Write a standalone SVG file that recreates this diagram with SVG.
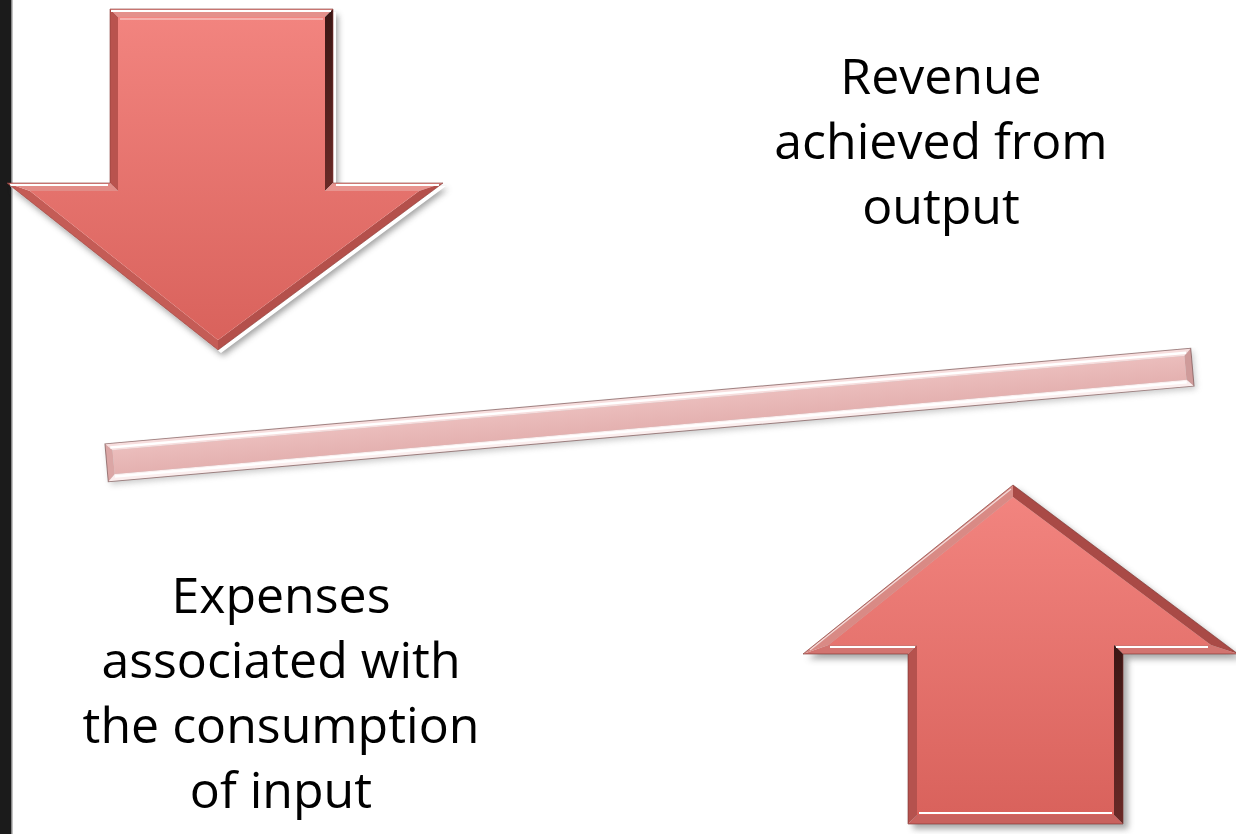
<svg xmlns="http://www.w3.org/2000/svg" width="1236" height="834" viewBox="0 0 1236 834">
  <style>
    .txt { font-family: "Open Sans", "Liberation Sans", sans-serif; font-size: 50px; fill: #000; text-anchor: middle; }
    .hl { fill: none; stroke: #ffffff; stroke-width: 2; stroke-linejoin: round; }
    .hls { fill: none; stroke: #ffffff; stroke-width: 1.2; opacity: 0.7; }
  </style>
  <defs>
    <linearGradient id="face" x1="0" y1="0" x2="0" y2="1">
      <stop offset="0" stop-color="#f2847f"/>
      <stop offset="1" stop-color="#d9625c"/>
    </linearGradient>
    <linearGradient id="darkside" x1="0" y1="0" x2="0" y2="1">
      <stop offset="0" stop-color="#3a1614"/>
      <stop offset="1" stop-color="#6a2a27"/>
    </linearGradient>
    <linearGradient id="barface" x1="0" y1="0" x2="0" y2="1">
      <stop offset="0" stop-color="#ebbdbc"/>
      <stop offset="1" stop-color="#e4b1b0"/>
    </linearGradient>
    <filter id="sh" x="-10%" y="-10%" width="130%" height="130%">
      <feGaussianBlur stdDeviation="3"/>
    </filter>
  </defs>

  <rect x="0" y="0" width="1236" height="834" fill="#ffffff"/>
  <rect x="0" y="0" width="11" height="834" fill="#1b1b1b"/>
  <rect x="11" y="0" width="1.5" height="834" fill="#888888"/>

  <!-- Down arrow -->
  <g id="arrow-down">
    <polygon points="110,9 333,9 333,183 443,183 218,350 7,183 110,183" transform="translate(5,6)" fill="#555" opacity="0.55" filter="url(#sh)"/>
    <polygon points="113,12 336,12 336,186 446,186 221,353 10,186 113,186" fill="#ffffff"/>
    <polygon points="110,9 333,9 325,17 118,17" fill="#e4908b"/>
    <polygon points="333,9 333,183 325,191 325,17" fill="url(#darkside)"/>
    <polygon points="333,183 443,183 419,191 325,191" fill="#e8948f"/>
    <polygon points="443,183 218,350 218,340 419,191" fill="#b4504b"/>
    <polygon points="218,350 7,183 30,191 218,340" fill="#c45c56"/>
    <polygon points="7,183 110,183 118,191 30,191" fill="#e28c87"/>
    <polygon points="110,183 110,9 118,17 118,191" fill="#b9534e"/>
    <polygon points="118,17 325,17 325,191 419,191 218,340 30,191 118,191" fill="url(#face)"/>
    <polyline class="hl" points="111,11 331,11"/>
    <polyline class="hl" points="336,185 439,185"/>
    <polyline class="hl" points="10,185 108,185"/>
    <polyline class="hls" points="120,19 323,19"/>
    <polyline class="hls" points="442,187 220,352"/>
    <polygon points="110,9 333,9 333,183 443,183 218,350 7,183 110,183" fill="none" stroke="#8a3a36" stroke-width="1" opacity="0.6"/>
  </g>

  <!-- Up arrow -->
  <g id="arrow-up">
    <polygon points="1013,485 1238,654 1123,654 1123,824 908,824 908,654 803,654" transform="translate(5,5)" fill="#555" opacity="0.5" filter="url(#sh)"/>
    <polygon points="1013,485 1238,654 1211,645 1013,497" fill="#a94a46"/>
    <polygon points="1238,654 1123,654 1114,645 1211,645" fill="#d27470"/>
    <polygon points="1123,654 1123,824 1114,815 1114,645" fill="url(#darkside)"/>
    <polygon points="1123,824 908,824 917,815 1114,815" fill="#c9625e"/>
    <polygon points="908,824 908,654 917,645 917,815" fill="#b5524e"/>
    <polygon points="908,654 803,654 828.5,645 917,645" fill="#d27470"/>
    <polygon points="803,654 1013,485 1013,497 828.5,645" fill="#d98a85"/>
    <polygon points="1013,497 1211,645 1114,645 1114,815 917,815 917,645 828.5,645" fill="url(#face)"/>
    <polyline class="hl" points="1116,647 1208,647"/>
    <polyline class="hl" points="830,647 915,647"/>
    <polyline class="hl" points="919,813 1112,813"/>
    <polyline class="hls" points="810,650 1011,489"/>
    <polygon points="1013,485 1238,654 1123,654 1123,824 908,824 908,654 803,654" fill="none" stroke="#7a302c" stroke-width="1" opacity="0.6"/>
  </g>

  <!-- Tilted bar -->
  <g id="bar" transform="translate(649.5,415) rotate(-5.03)">
    <rect x="-545" y="-19" width="1090" height="38" transform="translate(2,3)" fill="#666" opacity="0.35" filter="url(#sh)"/>
    <polygon points="-545,-19 545,-19 538,-12 -538,-12" fill="#f7dede"/>
    <polygon points="545,-19 545,19 538,12 538,-12" fill="#cf9b9a"/>
    <polygon points="545,19 -545,19 -538,12 538,12" fill="#fbeeee"/>
    <polygon points="-545,19 -545,-19 -538,-12 -538,12" fill="#dba6a5"/>
    <rect x="-538" y="-12" width="1076" height="24" fill="url(#barface)"/>
    <line x1="-540" y1="-15" x2="540" y2="-15" stroke="#ffffff" stroke-width="2.5"/>
    <line x1="-538" y1="14.5" x2="538" y2="14.5" stroke="#ffffff" stroke-width="2.5"/>
    <rect x="-545" y="-19" width="1090" height="38" fill="none" stroke="#7a5454" stroke-width="1" opacity="0.7"/>
  </g>

  <!-- Labels -->
  <g id="label-revenue">
    <text class="txt" x="941" y="93.5">Revenue</text>
    <text class="txt" x="941" y="158.5">achieved from</text>
    <text class="txt" x="941" y="223.5">output</text>
  </g>
  <g id="label-expenses">
    <text class="txt" x="281" y="613">Expenses</text>
    <text class="txt" x="281" y="678">associated with</text>
    <text class="txt" x="281" y="743">the consumption</text>
    <text class="txt" x="281" y="808">of input</text>
  </g>
</svg>
